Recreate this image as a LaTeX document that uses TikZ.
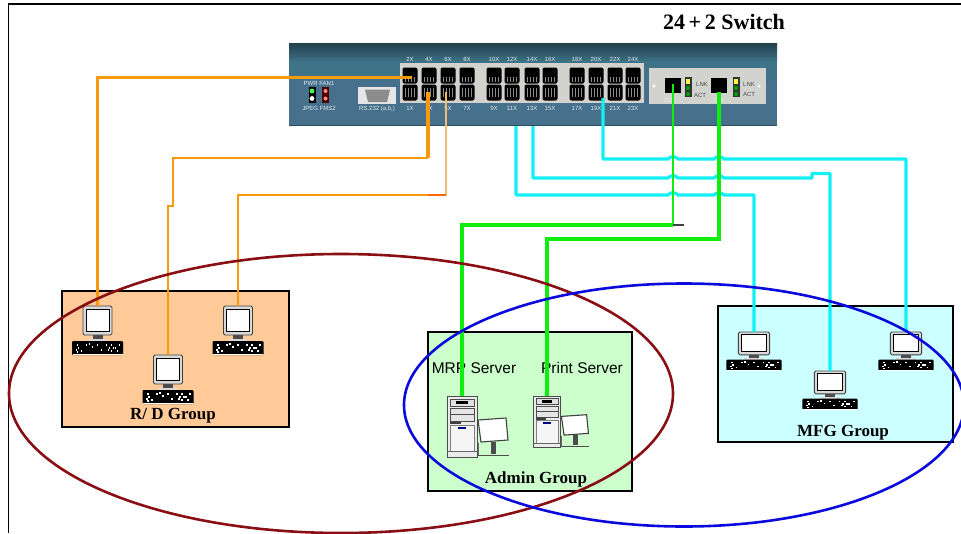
\documentclass[tikz,border=0pt]{standalone}
\usepackage{fontspec}
\setmainfont{Liberation Serif}
\setsansfont{Liberation Sans}
\usetikzlibrary{calc}
\definecolor{swtop}{HTML}{2F5A6E}
\definecolor{swbody}{HTML}{46708C}
\definecolor{swmid}{HTML}{3F7488}
\definecolor{panelgray}{HTML}{D2D2CE}
\definecolor{cableor}{HTML}{F79A0E}
\definecolor{cablelt}{HTML}{F2BE6C}
\definecolor{cablecy}{HTML}{13F0F5}
\definecolor{cablegr}{HTML}{10EE10}
\definecolor{rdfill}{HTML}{FFC998}
\definecolor{adfill}{HTML}{CCFFCC}
\definecolor{mffill}{HTML}{CCFFFF}
\definecolor{redell}{HTML}{8A0F14}
\definecolor{blueell}{HTML}{0A0ADC}
\definecolor{monbody}{HTML}{D9D9D9}
\tikzset{
  groupbox/.style={draw=black,line width=2.8pt},
  grouplabel/.style={font=\bfseries\fontsize{17}{17}\selectfont,inner sep=0pt},
  srvlabel/.style={font=\sffamily\fontsize{15.5}{15.5}\selectfont,text=black,inner sep=0pt},
  portlabel/.style={font=\sffamily\fontsize{6}{6}\selectfont,text=white!85!swbody,inner sep=0pt},
  orcable/.style={draw=cableor,line width=3pt,line join=miter},
  cycable/.style={draw=cablecy,line width=3.2pt,line join=round},
  grcable/.style={draw=cablegr,line width=3.4pt},
  computer/.pic={
    \draw[black!75,fill=monbody,line width=.9pt,rounded corners=1.5pt] (-14.5,0) rectangle (14.5,29);
    \draw[black,fill=white,line width=.7pt] (-11.5,3.5) rectangle (11.5,25);
    \fill[black!70] (-5,29) rectangle (5,34);
    \fill[black!15] (-9,33) rectangle (9,35);
    \fill[black,rounded corners=1pt] (-25.5,35) -- (25.5,35) -- (25.5,49) -- (-25.5,49) -- cycle;
    \foreach \a/\b in {-21/38,-22/43,-20/41,-12/38,-6/40,-1/38,3/43,8/38,10/43,13/38,13/44,11/41,17/41,-17/44,19/44,21/38,-21/45,15/41,-9/37}
      \fill[white] (\a,\b) rectangle ++(1.7,1.7);
    \fill[white] (-25,47.5) rectangle (25,48.2);
    \coordinate (-top) at (0,0);
  },
  server/.pic={
    \draw[black!70,fill=white!92!black,line width=.8pt] (-15,0) rectangle (15,61);
    \draw[black!70,fill=black!12] (-12,3) rectangle (12,10);
    \fill[black] (-6,5) rectangle (6,8);
    \draw[black!70,fill=black!10] (-12,12) rectangle (12,25);
    \draw[black!70] (-12,18) -- (12,18);
    \fill[black!75] (-12,26) rectangle (-1,28);
    \draw[black!50,fill=black!4] (-12,29) rectangle (12,55);
    \fill[blue!55!black] (-4,31) rectangle (4,33);
    \draw[black!60] (-15,55) -- (15,55);
    \draw[black!75,fill=white,line width=1.1pt] (16,24) -- (44,22) -- (46,44) -- (19,46) -- cycle;
    \fill[black!70] (29,46) rectangle (34,58);
    \draw[black!70,line width=1.3pt] (16,59.5) -- (47,59.5);
    \draw[black!60,line width=.8pt] (16,47) -- (16,59);
    \coordinate (-top) at (0,0);
  }
}
\begin{document}
\begin{tikzpicture}[x=1pt,y=-1pt]
\useasboundingbox (0,0) rectangle (961,533);
\clip (0,0) rectangle (961,533);
% page frame
\draw[black,line width=1.8pt] (961,4) -- (8.5,4) -- (8.5,533);
% switch body
\fill[swbody] (289,43) rectangle (777,126);
\shade[top color=swtop!70!black,bottom color=swmid] (289,43) rectangle (777,62);
\fill[swmid] (289,62) rectangle (777,80);
\fill[black!35!swbody] (289,124.5) rectangle (777,126);
\fill[panelgray] (400,63) rectangle (644,103);
\fill[panelgray] (649,68) rectangle (766,104);
% ports
\foreach \n/\xx in {1/410,3/429,5/448,7/467,9/494,11/512,13/532,15/550,17/577,19/596,21/615,23/633}{
  \pgfmathtruncatemacro{\nup}{\n+1}
  \node[fill=black,minimum width=15pt,minimum height=16pt,inner sep=0pt,rounded corners=2pt] (p\nup) at (\xx,75.5) {};
  \node[fill=black,minimum width=15pt,minimum height=16pt,inner sep=0pt,rounded corners=2pt] (p\n) at (\xx,92.5) {};
  \foreach \d in {-4.5,-1.5,1.5,4.5}{
    \draw[white!55!black,line width=.5pt] (\xx+\d,77) -- (\xx+\d,82);
    \draw[white!55!black,line width=.5pt] (\xx+\d,88) -- (\xx+\d,97);
  }
  \node[portlabel] (lt\nup) at (\xx,59) {\nup X};
  \node[portlabel] (lb\n) at (\xx,108) {\n X};
}
% uplinks
\node[fill=black,minimum width=16pt,minimum height=15pt,inner sep=0pt] (up25) at (673,85) {};
\node[fill=black,minimum width=16pt,minimum height=15pt,inner sep=0pt] (up26) at (719,85) {};
\node[portlabel] (l25) at (669,100) {25X};
\node[portlabel] (l26) at (719,100) {26X};
\foreach \a in {688,736}{
  \fill[black!80] (\a-3.5,77) rectangle (\a+3.5,97);
  \fill[yellow!70!white] (\a-2,78.5) rectangle (\a+2,84);
  \fill[green!60!black] (\a,88) circle (2.2);
  \fill[green!60!black] (\a,94) circle (2.2);
}
\node[portlabel,text=black!70] (lnk1) at (702,84) {LNK};
\node[portlabel,text=black!70] (act1) at (700,95) {ACT};
\node[portlabel,text=black!70] (lnk2) at (749,84) {LNK};
\node[portlabel,text=black!70] (act2) at (749,94) {ACT};
\fill[white] (654,86) circle (1.6);
\fill[white] (759,86) circle (1.6);
% status LEDs
\node[portlabel] (pwr) at (319,83) {PWR FAN1};
\node[portlabel] (jmp) at (319,108) {JPEG FMS2};
\fill[black] (308.5,87) rectangle (316,103);
\fill[green!70!white] (312,91) circle (2.4);
\fill[white] (312,98.5) circle (2.4);
\fill[black!70!red] (322,87) rectangle (329,103);
\fill[red!45!white] (325.5,91) circle (2);
\fill[red!45!white] (325.5,98.5) circle (2);
% console port
\fill[white!90!black] (358,87) rectangle (396,104);
\fill[black!45] (365,89.5) -- (390,89.5) -- (387,102) -- (368,102) -- cycle;
\node[portlabel] (con) at (377,108.5) {RS.232 (a,b,)};
% groups
\fill[rdfill] (62,291) rectangle (289,427);
\draw[groupbox] (62,291) rectangle (289,427);
\fill[adfill] (428,332) rectangle (632,491);
\draw[groupbox] (428,332) rectangle (632,491);
\fill[mffill] (718,306) rectangle (953,442);
\draw[groupbox] (718,306) rectangle (953,442);
% labels
\node[font=\bfseries\fontsize{22}{22}\selectfont,inner sep=0pt] (title) at (724,22) {24\,+\,2 Switch};
\node[grouplabel] (lrd) at (173,416) {R/ D Group};
\node[grouplabel] (lmf) at (843,433) {MFG Group};
\node[grouplabel] (lad) at (536,479) {Admin Group};
\node[srvlabel] (lmrp) at (474,368) {MRP Server};
\node[srvlabel] (lprt) at (582,368) {Print Server};
% computers
\pic (pcA) at (97.5,306) {computer};
\pic (pcB) at (168,355) {computer};
\pic (pcC) at (238,306) {computer};
\pic[xscale=1.08,yscale=.79] (pcD) at (754,332) {computer};
\pic[xscale=1.08,yscale=.79] (pcE) at (830,371) {computer};
\pic[xscale=1.08,yscale=.79] (pcF) at (906,332) {computer};
\pic (srvA) at (462,396) {server};
\pic[xscale=.9,yscale=.85] (srvB) at (547,396) {server};
% orange cables
\coordinate (p2in) at (412,77);
\coordinate (p3in) at (428,92);
\coordinate (p5in) at (446,92);
\coordinate (bendA) at (428,158);
\coordinate (bendB) at (173,206);
\coordinate (bendC) at (168,206);
\coordinate (bendD) at (446,195);
\coordinate (bendE) at (428,195);
\draw[orcable] (p2in) -| (pcA-top);
\draw[orcable,line width=3.2pt] (p3in) -- (bendA);
\draw[orcable,line width=2.4pt] (bendA) -| (bendB) -- (bendC) -- (pcB-top);
\draw[cablelt,line width=1.6pt] (p5in) -- (bendD);
\draw[orcable,line width=2.6pt] (bendE) -| (pcC-top);
\draw[draw=orange!80!red,line width=2.4pt] (bendD) -- (bendE);
% cyan cables
\coordinate (c19) at (603,98);
\coordinate (c13) at (533,126);
\coordinate (c11) at (516,126);
\draw[cycable] (c19) |- (668,159) .. controls (670,156) and (676,156) .. (678,159) -- (714,159) .. controls (716,156) and (722,156) .. (724,159) -| (pcF-top);
\draw[cycable] (c13) |- (668,178) .. controls (670,175) and (676,175) .. (678,178) -- (714,178) .. controls (716,175) and (722,175) .. (724,178) -- (812,178) -- (812,173.5) -- (830,173.5) -- (pcE-top);
\draw[cycable] (c11) |- (668,195) .. controls (670,192) and (676,192) .. (678,195) -- (714,195) .. controls (716,192) and (722,192) .. (724,195) -| (pcD-top);
% green cables
\coordinate (g25) at (673,84);
\coordinate (g26) at (719,92);
\coordinate (g25b) at (673,225);
\coordinate (g25e) at (684,225);
\coordinate (g26b) at (547,239);
\draw[cablegr,line width=2pt] (g25) -- (g25b);
\draw[grcable] (g25b) -| (srvA-top);
\draw[black!75,line width=1.1pt] (g25b) -- (g25e);
\draw[grcable] (g26) |- (g26b) -- (srvB-top);
% ellipses
\draw[redell,line width=2.6pt] (341,393.5) ellipse [x radius=332,y radius=139.5];
\draw[blueell,line width=2.6pt] (684,405) ellipse [x radius=280,y radius=121.5];
\end{tikzpicture}
\end{document}
